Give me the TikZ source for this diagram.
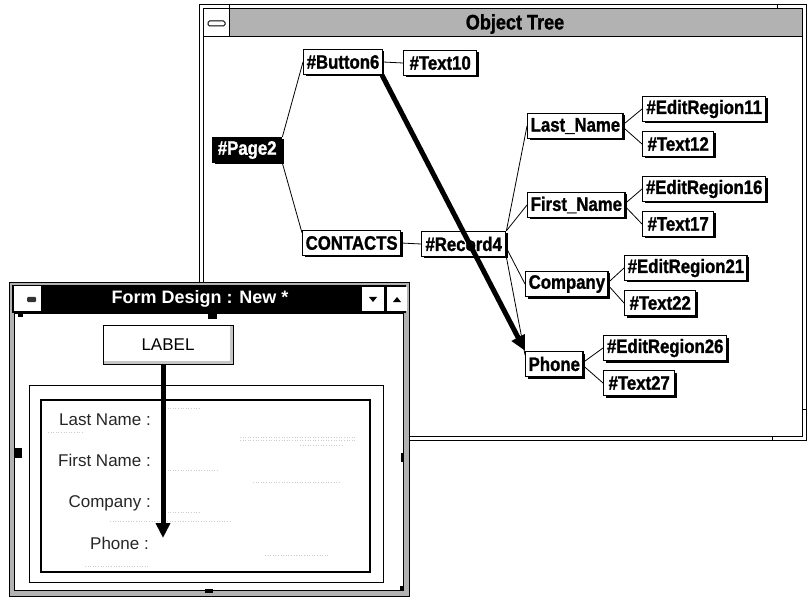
\documentclass[tikz,border=0pt]{standalone}
\usepackage{fontspec}
\setmainfont{Liberation Sans}
\newfontfamily\treefam{Liberation Sans}[FakeStretch=0.86, BoldFeatures={FakeBold=1.2}]
\usetikzlibrary{arrows.meta,shadows,calc}

\newcommand{\treefont}{\treefam\bfseries\fontsize{19.5}{21}\selectfont}
\newcommand{\formfont}{\fontsize{17}{19}\selectfont}
\newcommand{\wintitlefont}{\bfseries\fontsize{18}{20}\selectfont}
\newcommand{\objtitlefont}{\treefam\bfseries\fontsize{21}{23}\selectfont}

\begin{document}
\begin{tikzpicture}[x=1pt,y=-1pt,
  obj/.style={draw=black, line width=1.4pt, fill=white, font=\treefont,
    inner xsep=3pt, inner ysep=0pt, minimum height=25pt, anchor=west,
    drop shadow={shadow xshift=2pt, shadow yshift=-2pt, fill=black, opacity=1}},
  objsel/.style={obj, fill=black, text=white},
  link/.style={draw=black, line width=0.8pt},
  bigarrow/.style={draw=black, line width=5pt, -{Triangle[length=15pt,width=14pt]}},
  stipple/.style={fill=gray!60},
  winline/.style={draw=black, line width=1pt},
  handle/.style={fill=black},
  fieldlbl/.style={font=\formfont, text=black!85, anchor=east, inner sep=0pt},
  ghost/.style={draw=gray!40, line width=0.6pt, dotted},
  labelbtn/.style={draw=black, line width=0.8pt, fill=gray!45, font=\formfont,
    path picture={\fill[white] (path picture bounding box.north west)
      rectangle ([xshift=-3pt,yshift=3pt]path picture bounding box.south east);}}
]
\useasboundingbox (0,0) rectangle (807,599);

% ---------------- Object Tree window ----------------
\draw[winline, fill=white] (199,5) rectangle (806,440);
\draw[winline] (203,9) rectangle (802,436);
\fill[stipple] (229,9) rectangle (802,37);
\draw[winline] (203,37) -- (802,37);
\draw[winline] (229,9) -- (229,37);
\draw[line width=1pt, rounded corners=1.5pt, fill=white] (208,21) rectangle (225,26);
\draw[winline] (229,5) -- (229,9) (777,5) -- (777,9) (772,436) -- (772,440) (802,409) -- (806,409);
\node[font=\objtitlefont] (objtitle) at (515,24) {Object Tree};

% tree nodes
\node[objsel, minimum width=69pt] (page) at (212,150) {\#Page2};
\node[obj, minimum width=78pt] (btn) at (303,62) {\#Button6};
\node[obj, minimum width=73pt] (txt10) at (403,63) {\#Text10};
\node[obj, minimum width=95pt] (contacts) at (302,243) {CONTACTS};
\node[obj, minimum width=84pt] (rec) at (421,244) {\#Record4};
\node[obj, minimum width=94pt] (last) at (527,126) {Last\_Name};
\node[obj, minimum width=123pt] (er11) at (642,109) {\#EditRegion11};
\node[obj, minimum width=71pt] (t12) at (642,144) {\#Text12};
\node[obj, minimum width=94pt] (first) at (527,205) {First\_Name};
\node[obj, minimum width=123pt] (er16) at (642,189) {\#EditRegion16};
\node[obj, minimum width=71pt] (t17) at (642,224) {\#Text17};
\node[obj, minimum width=78pt] (comp) at (525,284) {Company};
\node[obj, minimum width=122pt] (er21) at (624,268) {\#EditRegion21};
\node[obj, minimum width=71pt] (t22) at (624,303) {\#Text22};
\node[obj, minimum width=56pt] (phone) at (525,364) {Phone};
\node[obj, minimum width=123pt] (er26) at (603,348) {\#EditRegion26};
\node[obj, minimum width=71pt] (t27) at (603,383) {\#Text27};

% tree links
\draw[link] (page.north east) -- (btn.west);
\draw[link] (page.south east) -- ([yshift=-3pt]contacts.north west);
\draw[link] (btn.east) -- (txt10.west);
\draw[link] (contacts.east) -- (rec.west);
\draw[link] (rec.north east) -- (last.west);
\draw[link] (rec.north east) -- (first.west);
\draw[link] ([yshift=-4pt]rec.east) -- (comp.west);
\draw[link] (rec.south east) -- ([yshift=-4pt]phone.north west);
\foreach \p/\a/\b in {last/er11/t12, first/er16/t17, comp/er21/t22, phone/er26/t27}{
  \draw[link] ([yshift=2pt]\p.east) -- (\a.west);
  \draw[link] ([yshift=-2pt]\p.east) -- (\b.west);
}

% button to field arrow
\draw[bigarrow] ([xshift=-1pt]btn.south east) -- (phone.north west);

% ---------------- Form Design window ----------------
\fill[stipple] (9,282) rectangle (409,596);
\draw[line width=0.8pt] (9,282) rectangle (409,596);
\fill[black] (12,285) rectangle (406,313);
\fill[white] (14,313) rectangle (403,590);
\draw[line width=0.8pt] (14,313) rectangle (403,590);
% title bar controls
\fill[white] (14,286) rectangle (41,311);
\fill[black!80, rounded corners=1pt] (27,297) rectangle (36,302);
\fill[white] (362,287) rectangle (384,311);
\fill[white] (387,287) rectangle (407,311);
\fill (369,297) -- (377,297) -- (373,302) -- cycle;
\fill (393,302) -- (401,302) -- (397,297) -- cycle;
\node[font=\wintitlefont, text=white] (formtitle) at (200,299) {Form Design : New *};

% selection handles
\fill[handle] (18,313) rectangle (23,317);
\fill[handle] (208,313) rectangle (217,319);
\fill[handle] (15,448) rectangle (22,458);
\fill[handle] (401,453) rectangle (404,462);
\fill[handle] (205,589) rectangle (213,593);
\fill[handle] (400,586) rectangle (403,590);

% label button
\node[labelbtn, minimum width=130pt, minimum height=39pt] (label) at (168,344.5) {LABEL};

% group frame
\draw[line width=0.9pt] (29,385) rectangle (383,582);
\draw[line width=1.3pt] (41,400) rectangle (370,572);

% faint field outlines
\draw[ghost] (165,408) -- (200,408);
\draw[ghost] (48,432) -- (82,432);
\draw[ghost] (240,437) -- (355,437);
\draw[ghost] (240,440) -- (355,440);
\draw[ghost] (300,445) -- (342,445);
\draw[ghost] (165,470) -- (218,470);
\draw[ghost] (253,482) -- (340,482);
\draw[ghost] (165,512) -- (200,512);
\draw[ghost] (110,521) -- (230,521);
\draw[ghost] (265,555) -- (330,555);
\draw[ghost] (85,566) -- (150,566);

% field labels
\node[fieldlbl] (lname) at (151,420) {Last Name :};
\node[fieldlbl] (fname) at (151,460) {First Name :};
\node[fieldlbl] (cname) at (151,503) {Company :};
\node[fieldlbl] (pname) at (149,543) {Phone :};

% label to field arrow
\coordinate (phonefield) at (163,538);
\draw[bigarrow] (label.south -| phonefield) -- (phonefield);
\end{tikzpicture}
\end{document}
